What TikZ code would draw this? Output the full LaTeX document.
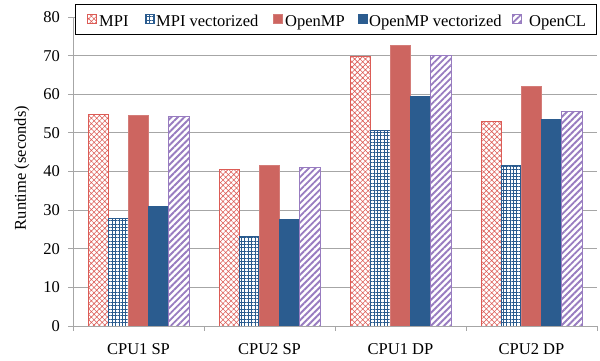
\documentclass[tikz,border=0pt]{standalone}
\usepackage{fontspec}
\setmainfont{Liberation Serif}
\usetikzlibrary{patterns.meta}

\definecolor{mpired}{RGB}{220,92,86}
\definecolor{ompred}{RGB}{205,101,96}
\definecolor{vecblue}{RGB}{43,92,143}
\definecolor{clpurple}{RGB}{152,124,192}
\definecolor{gridgray}{RGB}{166,166,166}

\tikzset{
  mpibar/.style={draw=mpired, line width=0.8pt, preaction={fill=white},
    pattern={Hatch[angle=45,distance=3.8pt,line width=0.55pt]}, pattern color=mpired},
  mpivecbar/.style={draw=vecblue, line width=0.8pt, preaction={fill=white},
    pattern={Hatch[angle=0,distance=3.4pt,line width=0.7pt]}, pattern color=vecblue},
  ompbar/.style={fill=ompred, draw=ompred!85!white, line width=0.6pt},
  ompvecbar/.style={fill=vecblue, draw=vecblue, line width=0.6pt},
  clbar/.style={draw=clpurple, line width=0.8pt, preaction={fill=white},
    pattern={Lines[angle=45,distance=4.6pt,line width=1.9pt]}, pattern color=clpurple},
  gridline/.style={draw=gridgray, line width=0.8pt},
  axisline/.style={draw=gridgray, line width=0.9pt},
  ticklabel/.style={anchor=east, inner sep=0pt, font=\fontsize{16.5}{19}\selectfont},
  catlabel/.style={anchor=base, inner sep=0pt, font=\fontsize{16.5}{19}\selectfont},
  legtext/.style={anchor=base west, inner sep=0pt, font=\fontsize{16.5}{19}\selectfont},
}

\begin{document}
\begin{tikzpicture}[x=1pt,y=1pt]
  \useasboundingbox (0,0) rectangle (600,360);

  % horizontal grid lines and left ticks
  \foreach \v in {0,10,...,80} {
    \pgfmathsetmacro\yy{34+3.8625*\v}
    \ifnum\v>0 \draw[gridline] (73,\yy) -- (597,\yy); \fi
    \draw[axisline] (68,\yy) -- (73,\yy);
    \node[ticklabel] (yl\v) at (60,\yy) {\v};
  }

  % bars: MPI, MPI vectorized, OpenMP, OpenMP vectorized, OpenCL
  \foreach \g/\a/\b/\c/\d/\e in {0/54.7/27.8/54.5/31.1/54.2,
                                  1/40.5/23.2/41.7/27.5/41.0,
                                  2/69.8/50.6/72.6/59.4/70.0,
                                  3/53.0/41.6/62.0/53.5/55.5} {
    \pgfmathsetmacro\x{73+131*\g+15}
    \draw[mpibar]    (\x,34) rectangle ({\x+20.2},{34+3.8625*\a});
    \draw[mpivecbar] ({\x+20.2},34) rectangle ({\x+40.4},{34+3.8625*\b});
    \draw[ompbar]    ({\x+40.4},34) rectangle ({\x+60.6},{34+3.8625*\c});
    \draw[ompvecbar] ({\x+60.6},34) rectangle ({\x+80.8},{34+3.8625*\d});
    \draw[clbar]     ({\x+80.8},34) rectangle ({\x+101},{34+3.8625*\e});
  }

  % axes
  \draw[axisline] (73,34) -- (73,343);
  \draw[axisline] (73,34) -- (597,34);
  \foreach \k in {0,...,4} \draw[axisline] ({73+131*\k},34) -- ({73+131*\k},29);

  % category labels
  \foreach \g/\t in {0/CPU1 SP,1/CPU2 SP,2/CPU1 DP,3/CPU2 DP}
    \node[catlabel] (cat\g) at ({73+131*\g+65.5},6) {\t};

  % axis title
  \node[rotate=90, inner sep=0pt, font=\fontsize{16.5}{19}\selectfont] (ytitle) at (22,192) {Runtime (seconds)};

  % legend
  \draw[fill=white, draw=black, line width=0.9pt] (75,326) rectangle (596,356);
  \draw[mpibar]    (87,337) rectangle (96,346);
  \node[legtext] (lg1) at (99,334) {MPI};
  \draw[mpivecbar] (145,337) rectangle (154,346);
  \node[legtext] (lg2) at (156,334) {MPI vectorized};
  \draw[ompbar]    (273,337) rectangle (282,346);
  \node[legtext] (lg3) at (285,334) {OpenMP};
  \draw[ompvecbar] (358,337) rectangle (367,346);
  \node[legtext] (lg4) at (369,334) {OpenMP vectorized};
  \draw[clbar]     (512,337) rectangle (521,346);
  \node[legtext] (lg5) at (529,334) {OpenCL};
\end{tikzpicture}
\end{document}
